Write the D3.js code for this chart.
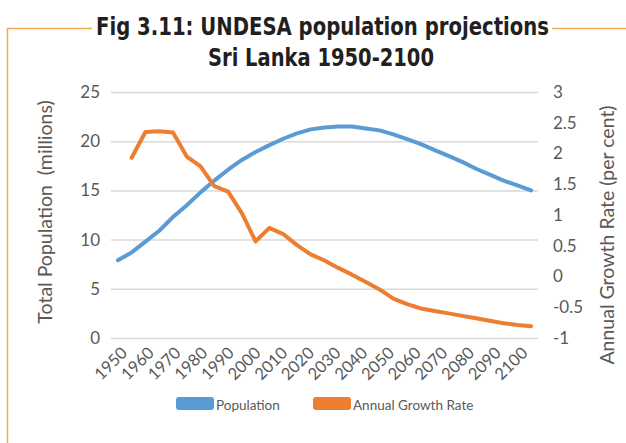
<!DOCTYPE html>
<html>
<head>
<meta charset="utf-8">
<script src="https://cdn.jsdelivr.net/npm/d3@7"></script>
<style>
  body { margin: 0; background: #fff; }
  svg { display: block; }
</style>
</head>
<body>
<div id="chart"></div>
<script>
// UNDESA projections, Sri Lanka, 5-year steps
const years = [1950, 1955, 1960, 1965, 1970, 1975, 1980, 1985, 1990, 1995, 2000,
  2005, 2010, 2015, 2020, 2025, 2030, 2035, 2040, 2045, 2050, 2055, 2060, 2065,
  2070, 2075, 2080, 2085, 2090, 2095, 2100];
const population = [7.9, 8.7, 9.8, 10.9, 12.3, 13.5, 14.8, 16.0, 17.1, 18.1, 18.9,
  19.6, 20.25, 20.8, 21.2, 21.4, 21.5, 21.5, 21.3, 21.1, 20.7, 20.2, 19.7, 19.1,
  18.5, 17.9, 17.2, 16.6, 16.0, 15.5, 15.0];
const growthRate = [null, 1.93, 2.35, 2.36, 2.34, 1.95, 1.79, 1.47, 1.38, 1.03, 0.57,
  0.79, 0.69, 0.51, 0.36, 0.26, 0.14, 0.03, -0.09, -0.21, -0.36, -0.45, -0.52, -0.56,
  -0.60, -0.64, -0.68, -0.72, -0.76, -0.79, -0.81];
// axis labels as printed in the figure (including its repeated "1950")
const xLabels = ["1950", "1960", "1970", "1980", "1950", "1990", "2000", "2010", "2020",
  "2030", "2040", "2050", "2060", "2070", "2080", "2090", "2100"];
const leftTicks = [0, 5, 10, 15, 20, 25];
const rightTicks = [-1, -0.5, 0, 0.5, 1, 1.5, 2, 2.5, 3];

const W = 626, H = 443;
const margin = { top: 92, right: 88, bottom: 105, left: 111 };
const width = W - margin.left - margin.right;
const height = H - margin.top - margin.bottom;

const font = "Lato, 'Open Sans', sans-serif";
const grey = "#595959";
const frameColor = "#F4A94E";

const svg = d3.select("#chart").append("svg")
  .attr("width", W)
  .attr("height", H);

// orange frame round the figure
svg.append("path")
  .attr("d", "M92,28.5 H7.5 V443 M552,28.5 H626")
  .attr("fill", "none")
  .attr("stroke", frameColor)
  .attr("stroke-width", 1.5);

// title
const titleFont = "'Liberation Sans Narrow', 'DejaVu Sans Condensed', 'Liberation Sans', sans-serif";
svg.append("text")
  .attr("x", 322.5).attr("y", 35)
  .attr("text-anchor", "middle")
  .attr("textLength", 453).attr("lengthAdjust", "spacingAndGlyphs")
  .style("font-family", titleFont).style("font-weight", "bold")
  .style("font-size", "24px").style("fill", "#231f20")
  .text("Fig 3.11: UNDESA population projections");
svg.append("text")
  .attr("x", 321).attr("y", 66)
  .attr("text-anchor", "middle")
  .attr("textLength", 226).attr("lengthAdjust", "spacingAndGlyphs")
  .style("font-family", titleFont).style("font-weight", "bold")
  .style("font-size", "24px").style("fill", "#231f20")
  .text("Sri Lanka 1950-2100");

const g = svg.append("g")
  .attr("transform", `translate(${margin.left},${margin.top})`);

// scales
const x = d3.scalePoint().domain(years).range([0, width]).padding(0.5);
const xLab = d3.scaleBand().domain(xLabels).range([0, width]);
const yL = d3.scaleLinear().domain([0, 25]).range([height, 0]);
const yR = d3.scaleLinear().domain([-1, 3]).range([height, 0]);

// gridlines
g.append("g")
  .call(d3.axisLeft(yL).tickValues(leftTicks).tickSize(-width).tickFormat(""))
  .call(a => a.select(".domain").remove())
  .call(a => a.selectAll("line").attr("stroke", "#d9d9d9").attr("stroke-width", 1.5));

// left axis
g.append("g")
  .call(d3.axisLeft(yL).tickValues(leftTicks).tickSize(0).tickPadding(11))
  .call(a => a.select(".domain").remove())
  .call(a => a.selectAll("text")
    .style("font-family", font).style("font-size", "17px").style("fill", grey));

// right axis
g.append("g")
  .attr("transform", `translate(${width},0)`)
  .call(d3.axisRight(yR).tickValues(rightTicks).tickSize(0).tickPadding(15)
    .tickFormat(d => String(d)))
  .call(a => a.select(".domain").remove())
  .call(a => a.selectAll("text")
    .style("font-family", font).style("font-size", "17px").style("fill", grey));

// x axis
g.append("g")
  .attr("transform", `translate(0,${height})`)
  .call(d3.axisBottom(xLab).tickSize(0).tickPadding(0))
  .call(a => a.select(".domain").remove())
  .call(a => a.selectAll("text")
    .attr("text-anchor", "end")
    .attr("dy", "0")
    .attr("transform", "translate(4,16) rotate(-45)")
    .style("font-family", font).style("font-size", "16.5px").style("fill", grey));

// lines
const popLine = d3.line()
  .x((d, i) => x(years[i]))
  .y(d => yL(d));
g.append("path")
  .datum(population)
  .attr("d", popLine)
  .attr("fill", "none")
  .attr("stroke", "#5B9BD5")
  .attr("stroke-width", 4)
  .attr("stroke-linecap", "round")
  .attr("stroke-linejoin", "round");

const rateLine = d3.line()
  .defined(d => d !== null)
  .x((d, i) => x(years[i]))
  .y(d => yR(d));
g.append("path")
  .datum(growthRate)
  .attr("d", rateLine)
  .attr("fill", "none")
  .attr("stroke", "#ED7D31")
  .attr("stroke-width", 4)
  .attr("stroke-linecap", "round")
  .attr("stroke-linejoin", "round");

// axis titles
svg.append("text")
  .attr("transform", "translate(52,212) rotate(-90)")
  .attr("text-anchor", "middle")
  .style("font-family", font).style("font-size", "19.5px").style("fill", grey)
  .style("white-space", "pre")
  .text("Total Population  (millions)");
svg.append("text")
  .attr("transform", "translate(614,235) rotate(-90)")
  .attr("text-anchor", "middle")
  .style("font-family", font).style("font-size", "19.5px").style("fill", grey)
  .text("Annual Growth Rate (per cent)");

// legend
const legend = [
  { name: "Population", color: "#5B9BD5", x: 176 },
  { name: "Annual Growth Rate", color: "#ED7D31", x: 313 }
];
const lg = svg.append("g");
legend.forEach(d => {
  lg.append("rect")
    .attr("x", d.x).attr("y", 397)
    .attr("width", 38).attr("height", 13)
    .attr("rx", 3)
    .attr("fill", d.color);
  lg.append("text")
    .attr("x", d.x + 40).attr("y", 410)
    .style("font-family", font).style("font-size", "13.5px").style("fill", grey)
    .text(d.name);
});
</script>
</body>
</html>
